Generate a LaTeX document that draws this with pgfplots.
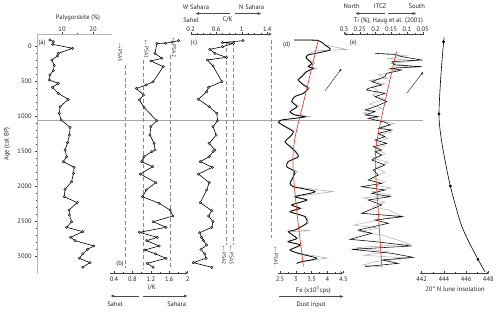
\documentclass[border=0pt]{standalone}
\usepackage{pgfplots}
\pgfplotsset{compat=1.18}
\usepackage{fontspec}
\setmainfont{PT Sans}
\usetikzlibrary{arrows.meta}
\definecolor{trend}{RGB}{226,62,52}
\definecolor{rawgray}{RGB}{175,175,175}
\definecolor{dashgray}{RGB}{140,140,140}
\pgfplotsset{
  panel/.style={scale only axis, height=238.9pt, ymin=-170, ymax=3243, y dir=reverse,
    anchor=north west, clip=false,
    axis line style={-, black!75, line width=0.4pt},
    tick style={black!75, line width=0.4pt},
    major tick length=2pt, minor tick length=1.2pt,
    /pgf/number format/assume math mode=true,
    tick label style={font=\fontsize{6.5}{7.5}\selectfont, text=black!85},
    label style={font=\fontsize{6.5}{7.5}\selectfont}},
  toppanel/.style={panel, axis x line=top, axis y line=none, ytick=\empty, tick align=outside,
    xticklabel style={inner sep=0.6pt}},
  botpanel/.style={panel, axis x line=bottom, axis y line=none, ytick=\empty, tick align=inside},
  dots/.style={black, line width=0.6pt, mark=*, mark size=1.25pt,
    mark options={fill=gray!55, draw=black, line width=0.35pt, solid}},
  psa/.style={dashgray, line width=0.6pt, dash pattern=on 4pt off 2.5pt},
}
\tikzset{ann/.style={font=\fontsize{6.5}{7.5}\selectfont, text=black!85, inner sep=0pt},
  psalab/.style={font=\fontsize{5.5}{6}\selectfont, text=black!80, inner sep=0pt, rotate=-90},
  harrow/.style={-{Latex[length=4pt,width=3pt]}, line width=0.8pt, black!70}}
\begin{document}
\begin{tikzpicture}
\path[use as bounding box] (0,0) rectangle (500pt,-312pt);

% horizontal reference line
\begin{axis}[panel, at={(37.2pt,-34.1pt)}, width=385.5pt, xmin=0, xmax=1, hide axis]
\addplot[gray!70, line width=0.6pt] coordinates {(0,1057) (1,1057)};
\end{axis}

% (a) Palygorskite
\begin{axis}[panel, at={(37.2pt,-34.1pt)}, width=74.4pt, xmin=2, xmax=26,
  axis x line=top, axis y line=left, tick align=outside,
  axis line style={-, black!30, line width=0.4pt},
  xticklabel style={inner sep=0.6pt},
  xtick={10,20}, minor x tick num=1,
  ytick={0,500,1000,1500,2000,2500,3000}, minor y tick num=4,
  yticklabel style={/pgf/number format/1000 sep={}}]
\addplot[dots] table {
6.1 -86
7.2 -62
7.0 -24
13.4 33
8.8 105
8.5 143
6.7 200
7.5 276
7.2 352
6.1 414
5.9 486
8.8 533
6.9 590
8.8 676
12.0 762
9.4 867
9.1 962
9.7 1057
12.6 1162
12.4 1271
11.8 1381
11.0 1486
11.5 1581
10.4 1652
13.9 1733
13.7 1819
13.1 1938
11.0 2048
10.7 2152
14.9 2238
12.3 2343
12.4 2414
13.1 2510
11.5 2590
16.7 2652
12.8 2733
14.2 2781
20.3 2857
18.2 2905
16.7 2971
15.6 3033
19.0 3095
16.7 3161
};
\end{axis}

% (b) I/K
\begin{axis}[botpanel, at={(109.9pt,-34.1pt)}, width=78.2pt, xmin=0.31, xmax=2.01,
  xtick={0.4,0.8,1.2,1.6,2}, xticklabels={0.4,0.8,1.2,1.6,2}, minor x tick num=1]
\addplot[psa] coordinates {(0.64,270) (0.64,3175)};
\addplot[psa] coordinates {(1.04,200) (1.04,3175)};
\addplot[psa] coordinates {(1.63,130) (1.63,3175)};
\addplot[dots] table {
1.80 -76
1.66 -55
1.52 -40
1.33 -35
1.29 105
1.44 176
1.20 214
1.47 295
1.25 510
1.10 557
0.89 605
1.04 700
0.95 771
1.05 876
1.33 1067
1.20 1152
1.18 1271
1.27 1390
1.29 1486
1.22 1510
1.05 1581
1.00 1652
1.24 1724
0.97 1829
1.31 1952
1.10 2057
1.02 2152
1.38 2248
1.62 2343
1.68 2429
1.25 2510
1.53 2590
0.95 2662
1.34 2733
1.11 2781
1.38 2857
1.07 2914
1.30 2970
1.53 3033
1.12 3105
1.25 3161
};
\end{axis}

% (c) C/K
\begin{axis}[toppanel, at={(190.7pt,-34.1pt)}, width=81pt, xmin=0.2, xmax=1.47,
  xtick={0.2,0.6,1,1.4}, xticklabels={0.2,0.6,1,1.4}, minor x tick num=3]
\addplot[psa] coordinates {(0.76,-60) (0.76,2840)};
\addplot[psa] coordinates {(0.87,-60) (0.87,2840)};
\addplot[psa] coordinates {(1.47,-86) (1.47,2740)};
\addplot[dots] table {
1.02 -76
0.70 -48
0.87 -38
0.70 10
0.50 48
0.58 105
0.76 162
0.46 200
0.55 286
0.69 510
0.48 590
0.45 652
0.32 762
0.49 867
0.61 962
0.62 1067
0.55 1152
0.60 1271
0.49 1390
0.58 1486
0.55 1510
0.49 1581
0.35 1652
0.54 1733
0.32 1829
0.49 1952
0.45 2057
0.35 2238
0.53 2352
0.48 2429
0.55 2510
0.53 2590
0.34 2667
0.37 2733
0.40 2781
0.45 2843
0.36 2905
0.42 2971
0.44 3033
0.24 3095
0.53 3161
};
\end{axis}

% (d) Fe
\begin{axis}[botpanel, at={(278.1pt,-34.1pt)}, width=65.2pt, xmin=2.44, xmax=4.5,
  xtick={2.5,3,3.5,4,4.5}, xticklabels={2.5,3,3.5,4,4.5}, minor x tick num=1]
\addplot[rawgray, line width=0.6pt] table {
2.95 -85
3.70 -82
3.95 -14
4.60 50
3.60 70
3.35 129
3.30 170
3.60 245
3.40 290
3.65 320
3.30 370
3.15 440
3.05 480
3.30 560
3.45 600
3.20 680
2.95 720
2.85 790
3.10 860
2.80 940
3.00 980
3.45 1010
2.95 1035
2.55 1060
2.45 1095
2.70 1150
2.95 1220
2.80 1300
2.65 1370
2.85 1440
3.00 1500
3.10 1580
2.75 1650
2.70 1725
3.05 1790
2.90 1870
2.80 1960
2.95 2010
4.17 2081
3.00 2150
3.40 2200
2.85 2270
3.20 2320
2.80 2370
3.35 2440
3.40 2530
3.00 2620
3.45 2640
2.75 2655
3.05 2750
2.75 2800
3.20 2845
2.80 2915
3.10 2960
4.00 3030
3.20 3080
3.00 3110
};
\addplot[black, line width=0.8pt, smooth, tension=0.4] table {
2.95 -85
3.70 -80
3.92 -14
4.08 57
3.39 129
3.34 176
3.50 248
3.39 295
3.55 319
3.34 367
3.19 438
3.08 486
3.24 557
3.39 605
3.24 676
2.97 724
2.87 795
3.03 867
2.82 938
2.97 986
3.29 1010
2.97 1033
2.55 1057
2.45 1090
2.66 1152
2.92 1224
2.82 1295
2.66 1367
2.82 1438
2.97 1500
3.08 1581
2.76 1652
2.71 1724
2.97 1795
2.92 1867
2.82 1962
2.92 2010
3.61 2081
2.97 2152
3.34 2200
2.87 2271
3.13 2319
2.82 2367
3.29 2438
3.34 2533
2.97 2629
2.76 2652
3.03 2748
2.76 2795
3.13 2843
2.82 2914
3.08 2962
3.66 3033
3.19 3081
3.03 3105
};
\addplot[trend, line width=0.7pt, smooth] table {
3.71 -86
3.30 700
2.98 1300
2.91 1700
3.04 2400
3.24 3150
};
\draw[-{Latex[length=3pt,width=2.4pt]}, line width=0.5pt, black!80] (axis cs:3.92,643) -- (axis cs:4.45,319);
\end{axis}

% (e) Ti
\begin{axis}[toppanel, at={(344pt,-34.1pt)}, width=80.3pt, xmin=0.045, xmax=0.3, x dir=reverse,
  xtick={0.05,0.1,0.15,0.2,0.25,0.3}, xticklabels={0.05,0.1,0.15,0.2,0.25,0.3}, minor x tick num=1]
\addplot[rawgray, line width=0.5pt] table {
0.18 112
0.10 140
0.16 180
0.07 210
0.15 250
0.09 285
0.16 330
0.13 360
0.19 410
0.16 460
0.22 490
0.17 540
0.21 580
0.19 650
0.21 700
0.17 760
0.22 830
0.18 890
0.24 960
0.20 1000
0.19 1060
0.14 1110
0.18 1150
0.15 1230
0.19 1270
0.16 1320
0.20 1370
0.17 1420
0.20 1460
0.17 1540
0.21 1600
0.16 1660
0.20 1740
0.17 1810
0.21 1880
0.17 1940
0.20 1990
0.15 2030
0.21 2080
0.15 2130
0.24 2170
0.17 2230
0.21 2300
0.16 2340
0.12 2420
0.27 2560
0.19 2600
0.25 2650
0.18 2700
0.09 2830
0.26 2880
0.16 2940
0.24 2990
0.09 3030
0.20 3080
0.24 3130
0.17 3160
};
\addplot[black, line width=0.55pt] table {
0.2015 105
0.138 119
0.117 152
0.053 200
0.148 224
0.138 271
0.053 295
0.154 319
0.117 343
0.164 390
0.170 438
0.212 510
0.180 557
0.223 605
0.228 629
0.170 676
0.2015 724
0.164 795
0.2015 867
0.233 914
0.2015 938
0.233 986
0.191 1010
0.223 1033
0.170 1090
0.154 1129
0.191 1176
0.148 1200
0.191 1248
0.170 1295
0.2015 1343
0.164 1390
0.207 1438
0.180 1486
0.2015 1510
0.180 1557
0.212 1629
0.170 1700
0.207 1771
0.191 1843
0.223 1914
0.180 1962
0.244 2010
0.170 2057
0.212 2105
0.154 2152
0.223 2200
0.180 2271
0.244 2390
0.111 2438
0.2015 2486
0.159 2533
0.255 2629
0.212 2676
0.281 2762
0.2015 2795
0.085 2857
0.276 2905
0.148 2962
0.080 3019
0.180 3057
0.128 3105
0.233 3152
};
\addplot[trend, line width=0.7pt, smooth] table {
0.133 80
0.170 800
0.200 1530
0.192 2300
0.180 3150
};
\draw[-{Latex[length=3pt,width=2.4pt]}, line width=0.5pt, black!80] (axis cs:0.1008,676) -- (axis cs:0.048,367);
\end{axis}

% (f) insolation
\begin{axis}[botpanel, at={(420pt,-34.1pt)}, width=69.4pt, xmin=441.85, xmax=448.1,
  xtick={442,444,446,448}, xticklabels={442,444,446,448}, minor x tick num=1]
\addplot[black, line width=0.6pt, smooth] table {
444.02 -100
443.98 -61
443.74 400
443.56 971
443.74 1300
444.10 1629
444.58 2000
445.45 2500
446.10 2750
447.07 3047
447.70 3224
};
\addplot[only marks, mark=*, mark size=1.2pt, black] table {
443.98 -61
443.56 971
444.58 2000
447.07 3047
};
\end{axis}

% ---- annotations ----
\node[ann, rotate=90] at (7pt,-144pt) {Age (cal BP)};
\node[ann] at (78pt,-18pt) {Palygorskite (\%)};
\node[ann] at (42pt,-43pt) {(a)};
\node[ann] at (120pt,-264pt) {(b)};
\node[ann] at (194pt,-42.5pt) {(c)};
\node[ann] at (286.7pt,-45pt) {(d)};
\node[ann] at (353.3pt,-43pt) {(e)};

\node[ann] at (151.7pt,-288pt) {I/K};
\draw[harrow] (139pt,-296pt) -- (110pt,-296pt);
\draw[harrow] (142.7pt,-296pt) -- (188pt,-296pt);
\node[ann] at (115pt,-304pt) {Sahel};
\node[ann] at (176.7pt,-304pt) {Sahara};

\node[ann] at (196pt,-7pt) {W Sahara};
\node[ann] at (251.7pt,-7pt) {N Sahara};
\draw[harrow] (230pt,-13.5pt) -- (195pt,-13.5pt);
\draw[harrow] (235pt,-13.5pt) -- (261.7pt,-13.5pt);
\node[ann] at (191pt,-20pt) {Sahel};
\node[ann] at (227.7pt,-20pt) {C/K};

\node[ann] at (313.3pt,-290pt) {Fe (x10\textsuperscript{3}cps)};
\draw[harrow] (279.3pt,-296.5pt) -- (344pt,-296.5pt);
\node[ann] at (311pt,-304.5pt) {Dust input};

\node[ann] at (351.7pt,-6.2pt) {North};
\node[ann] at (380pt,-6.2pt) {ITCZ};
\node[ann] at (416.7pt,-6.2pt) {South};
\draw[harrow] (385pt,-13.5pt) -- (355pt,-13.5pt);
\draw[harrow] (388.3pt,-13.5pt) -- (416.7pt,-13.5pt);
\node[ann] at (388.3pt,-21.2pt) {Ti (\%), Haug et al. (2001)};

\node[ann] at (455pt,-289.3pt) {20° N June insolation};

\node[psalab] at (120pt,-52pt) {$\rightarrow$PSA3};
\node[psalab] at (146.5pt,-49pt) {$\leftarrow$PSA1};
\node[psalab] at (174pt,-47.5pt) {$\leftarrow$PSA2};
\node[psalab] at (224pt,-255pt) {$\leftarrow$PSA2};
\node[psalab] at (231.5pt,-255pt) {$\leftarrow$PSA3};
\node[psalab] at (276pt,-256pt) {$\leftarrow$PSA1};
\end{tikzpicture}
\end{document}
